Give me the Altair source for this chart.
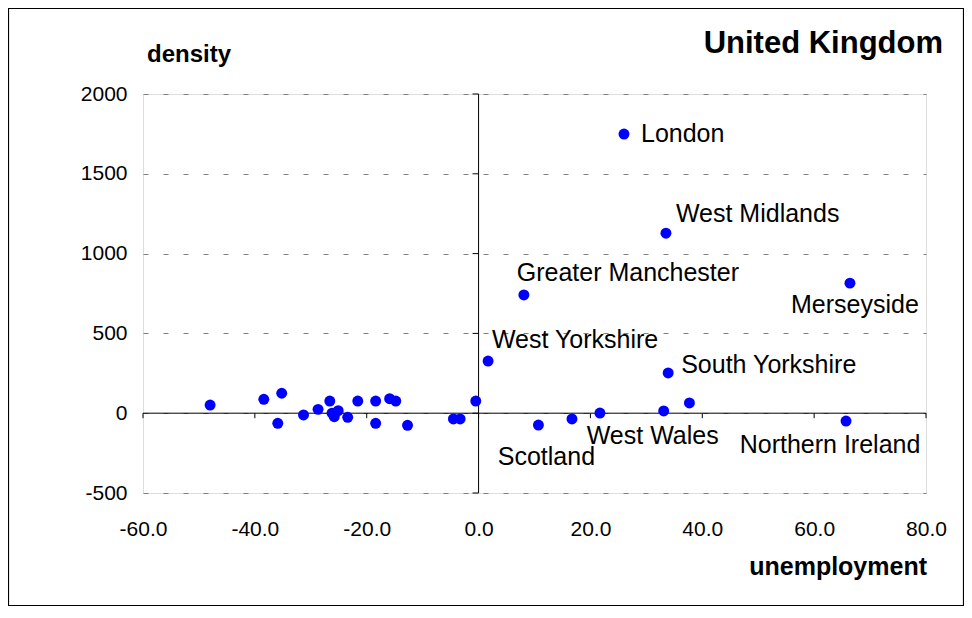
import altair as alt
import pandas as pd

# ---- data ----
unemployment = [-48.0, -38.4, -35.2, -35.9, -31.3, -28.7, -26.6, -26.2, -25.8, -25.1,
                -23.4, -21.6, -18.4, -18.4, -15.9, -14.8, -12.7, -4.5, -3.3, -0.5,
                1.7, 10.7, 16.7, 21.7, 33.1, 33.9, 37.7, 65.7,
                26.0, 33.5, 8.1, 66.4]
density = [51, 87, 125, -63, -11, 24, 76, 0, -22, 16,
           -26, 76, 76, -63, 91, 76, -76, -36, -36, 76,
           327, -74, -36, 1, 14, 252, 64, -49,
           1749, 1128, 741, 815]
region = ["", "", "", "", "", "", "", "", "", "",
          "", "", "", "", "", "", "", "", "", "",
          "West Yorkshire", "Scotland", "", "", "West Wales", "South Yorkshire", "", "Northern Ireland",
          "London", "West Midlands", "Greater Manchester", "Merseyside"]

x_ticks = [-60, -40, -20, 0, 20, 40, 60, 80]
y_ticks = [-500, 0, 500, 1000, 1500, 2000]

df = pd.DataFrame({"unemployment": unemployment, "density": density, "region": region})

# label placement (style only): align, dx, dy
placement = {
    "London": ("left", 17, 0),
    "West Midlands": ("left", 10, -19),
    "Greater Manchester": ("center", 104, -22),
    "Merseyside": ("center", 5, 22),
    "West Yorkshire": ("center", 87, -21),
    "South Yorkshire": ("left", 13, -8),
    "Scotland": ("center", 8, 32),
    "West Wales": ("center", -11, 25),
    "Northern Ireland": ("center", -16, 24),
}

FONT = "Liberation Sans"
W, H = 783, 399

xs = alt.Scale(domain=[-60, 80], nice=False, zero=False)
ys = alt.Scale(domain=[-500, 2000], nice=False, zero=False)

X = alt.X("unemployment:Q", scale=xs,
          axis=alt.Axis(values=x_ticks, title=None, grid=False, domain=False,
                        labelExpr="(datum.value < 0 ? '-' : '') + format(abs(datum.value), '.1f')",
                        ticks=False, tickSize=0, labelPadding=36, labelBaseline="middle",
                        labelFlush=False, labelOverlap=False,
                        labelFont=FONT, labelFontSize=21, labelColor="black"))
Y = alt.Y("density:Q", scale=ys,
          axis=alt.Axis(values=y_ticks, title=None, grid=True, gridDash=[5, 15],
                        labelExpr="(datum.value < 0 ? '-' : '') + format(abs(datum.value), 'd')",
                        gridColor="#808080", gridWidth=1, domain=False,
                        ticks=False, tickSize=0, labelPadding=16,
                        labelFlush=False, labelOverlap=False,
                        labelFont=FONT, labelFontSize=21, labelColor="black"))

base = alt.Chart(df)

points = base.mark_circle(size=120, color="#0000FF", opacity=1).encode(x=X, y=Y)

# zero lines (axes crossing at 0)
zx = alt.Chart(pd.DataFrame({"v": [0]})).mark_rule(color="black", strokeWidth=1).encode(
    x=alt.X("v:Q", scale=xs), y=alt.value(0), y2=alt.value(H))
zy = alt.Chart(pd.DataFrame({"v": [0]})).mark_rule(color="black", strokeWidth=1).encode(
    y=alt.Y("v:Q", scale=ys), x=alt.value(0), x2=alt.value(W))

# tick marks on the zero lines
xt = alt.Chart(pd.DataFrame({"t": x_ticks, "z": [0] * len(x_ticks)})).mark_rule(
    color="black", strokeWidth=1, y2Offset=5).encode(
    x=alt.X("t:Q", scale=xs), y=alt.Y("z:Q", scale=ys), y2="z:Q")
yt = alt.Chart(pd.DataFrame({"t": y_ticks, "z": [0] * len(y_ticks)})).mark_rule(
    color="black", strokeWidth=1, x2Offset=-6).encode(
    y=alt.Y("t:Q", scale=ys), x=alt.X("z:Q", scale=xs), x2="z:Q")

labels = []
for name, (al, dx, dy) in placement.items():
    labels.append(
        alt.Chart(df[df["region"] == name]).mark_text(
            align=al, baseline="middle", dx=dx, dy=dy, font=FONT, fontSize=25, color="black"
        ).encode(x=X, y=Y, text="region:N")
    )

one = pd.DataFrame({"a": [0]})
title = alt.Chart(one).mark_text(align="right", baseline="alphabetic", font=FONT,
                                 fontSize=31, fontWeight="bold", color="black").encode(
    x=alt.value(800), y=alt.value(-41), text=alt.value("United Kingdom"))
ylab = alt.Chart(one).mark_text(align="left", baseline="alphabetic", font=FONT,
                                fontSize=24, fontWeight="bold", color="black").encode(
    x=alt.value(4), y=alt.value(-32), text=alt.value("density"))
xlab = alt.Chart(one).mark_text(align="right", baseline="alphabetic", font=FONT,
                                fontSize=25, fontWeight="bold", color="black").encode(
    x=alt.value(784), y=alt.value(481), text=alt.value("unemployment"))
frame = alt.Chart(one).mark_rect(filled=False, stroke="black", strokeWidth=1.2).encode(
    x=alt.value(-134.5), x2=alt.value(820.5), y=alt.value(-85.5), y2=alt.value(511.5))

chart = alt.layer(frame, zx, zy, xt, yt, points, *labels, title, ylab, xlab).properties(
    width=W, height=H,
    padding={"left": 135, "top": 86, "right": 38, "bottom": 113},
    autosize=alt.AutoSizeParams(type="none"),
).configure_view(stroke="black", strokeWidth=1.5).configure(background="white")

chart.save("out.html", embed_options={"renderer": "svg", "actions": False})
